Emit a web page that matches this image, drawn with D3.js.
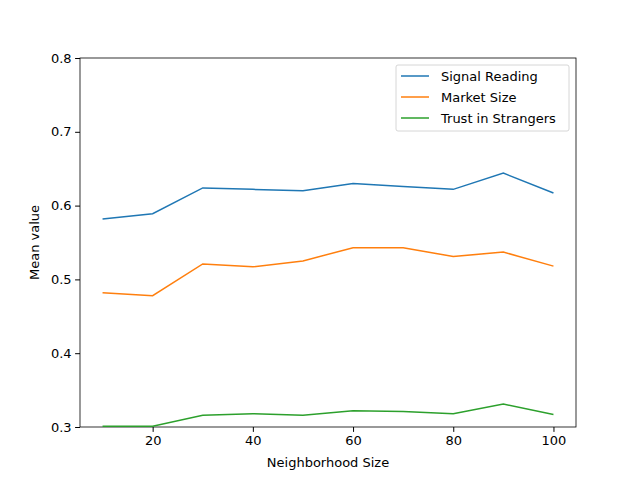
<!DOCTYPE html>
<html><head><meta charset="utf-8">
<script src="https://cdn.jsdelivr.net/npm/d3@7"></script>
<style>body{margin:0;background:#fff}text{font-family:"DejaVu Sans",sans-serif}</style>
</head><body>
<svg id="chart" width="640" height="480"></svg>
<script>
var sizes = [10, 20, 30, 40, 50, 60, 70, 80, 90, 100];
var signalReading = [0.582, 0.589, 0.624, 0.622, 0.620, 0.630, 0.626, 0.622, 0.644, 0.617];
var marketSize = [0.482, 0.478, 0.521, 0.517, 0.525, 0.543, 0.543, 0.531, 0.537, 0.518];
var trustStrangers = [0.301, 0.301, 0.316, 0.318, 0.316, 0.322, 0.321, 0.318, 0.331, 0.317];
var seriesNames = ["Signal Reading", "Market Size", "Trust in Strangers"];
var colors = ["#1f77b4", "#ff7f0e", "#2ca02c"];
var xTicks = [20, 40, 60, 80, 100];
var yTicks = [0.3, 0.4, 0.5, 0.6, 0.7, 0.8];

var svg = d3.select("#chart");
var m = {left: 80, right: 576, top: 58, bottom: 427};
var fs = 13;
var x = d3.scaleLinear().domain([5.5, 104.5]).range([m.left, m.right]);
var y = d3.scaleLinear().domain([0.3, 0.8]).range([m.bottom, m.top]);

var xAxis = svg.append("g").attr("transform", "translate(0," + m.bottom + ")")
  .call(d3.axisBottom(x).tickValues(xTicks).tickSizeOuter(0).tickSize(4.9).tickPadding(3.5));
var yAxis = svg.append("g").attr("transform", "translate(" + m.left + ",0)")
  .call(d3.axisLeft(y).tickValues(yTicks).tickFormat(d3.format(".1f")).tickSizeOuter(0).tickSize(4.9).tickPadding(3.5));
[xAxis, yAxis].forEach(function(a) {
  a.selectAll("text").attr("font-size", fs).attr("fill", "#000");
  a.select(".domain").remove();
});

svg.append("rect").attr("x", m.left).attr("y", m.top)
  .attr("width", m.right - m.left).attr("height", m.bottom - m.top)
  .attr("fill", "none").attr("stroke", "#000").attr("stroke-width", 0.8);

svg.append("text").attr("x", (m.left + m.right) / 2).attr("y", 467)
  .attr("text-anchor", "middle").attr("font-size", fs).text("Neighborhood Size");
svg.append("text").attr("transform", "translate(39," + (m.top + m.bottom) / 2 + ") rotate(-90)")
  .attr("text-anchor", "middle").attr("font-size", fs).text("Mean value");

var line = d3.line().x(function(d, i) { return x(sizes[i]); }).y(function(d) { return y(d); });
[signalReading, marketSize, trustStrangers].forEach(function(s, k) {
  svg.append("path").datum(s).attr("d", line)
    .attr("fill", "none").attr("stroke", colors[k]).attr("stroke-width", 1.5);
});

var lg = svg.append("g").attr("transform", "translate(396,65)");
lg.append("rect").attr("width", 173).attr("height", 66).attr("rx", 2)
  .attr("fill", "#fff").attr("stroke", "#ccc").attr("stroke-width", 0.8);
seriesNames.forEach(function(n, k) {
  var yy = 11 + k * 21;
  lg.append("line").attr("x1", 5).attr("x2", 33).attr("y1", yy).attr("y2", yy)
    .attr("stroke", colors[k]).attr("stroke-width", 1.5);
  lg.append("text").attr("x", 45).attr("y", yy + 4.5).attr("font-size", fs).text(n);
});
</script>
</body></html>
